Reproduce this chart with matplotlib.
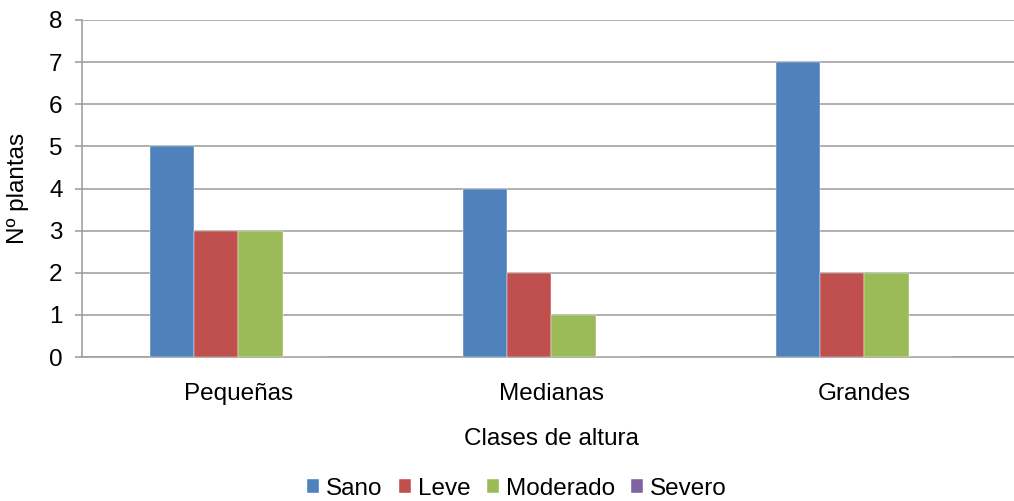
import matplotlib
import numpy as np

matplotlib.use("Agg")
import matplotlib.pyplot as plt  # noqa: E402

plt.rcParams["font.family"] = ["Liberation Sans", "DejaVu Sans"]

categories = ["Pequeñas", "Medianas", "Grandes"]
series = ["Sano", "Leve", "Moderado", "Severo"]
sano = [5, 4, 7]
leve = [3, 2, 2]
moderado = [3, 1, 2]
severo = [0, 0, 0]
colors = ["#4F81BD", "#C0504D", "#9BBB59", "#8064A2"]

values = [sano, leve, moderado, severo]
fs = 17.5

fig = plt.figure(figsize=(10.14, 5.01), dpi=100)
# plot area runs a little past the right edge of the figure
ax = fig.add_axes([82 / 1014, 1 - 357 / 501, 939 / 1014, 337 / 501])

x = np.arange(len(categories)) + 0.5
bw = 0.142
for i, (name, vals) in enumerate(zip(series, values)):
    ax.bar(x + (i - 1.5) * bw, vals, width=bw, color=colors[i], label=name,
           edgecolor="white", linewidth=0.3, zorder=3)

ax.set_xlim(0, 3)
ax.set_ylim(0, 8)
ax.set_yticks(range(9))
ax.set_xticks(x)
ax.set_xticklabels(categories)
ax.yaxis.grid(True, color="#9a9a9a", linewidth=1.1, zorder=0)
ax.tick_params(axis="y", length=5, width=1.1, color="#9a9a9a", labelsize=fs, pad=9)
ax.tick_params(axis="x", length=0, labelsize=fs, pad=19)
for side in ["top", "right"]:
    ax.spines[side].set_visible(False)
ax.spines["left"].set_color("#9a9a9a")
ax.spines["left"].set_linewidth(1.1)
ax.spines["bottom"].set_color("#9a9a9a")
ax.spines["bottom"].set_linewidth(1.1)

ax.set_xlabel("Clases de altura", fontsize=fs, labelpad=16)
ax.set_ylabel("Nº plantas", fontsize=fs, labelpad=14)

fig.legend(loc="center", bbox_to_anchor=(517 / 1014, 1 - 489 / 501), ncol=4,
           frameon=False, fontsize=fs, handlelength=0.5, handleheight=0.5,
           handletextpad=0.3, columnspacing=0.65, borderpad=0.2)

fig.savefig("out.png", dpi=100)
